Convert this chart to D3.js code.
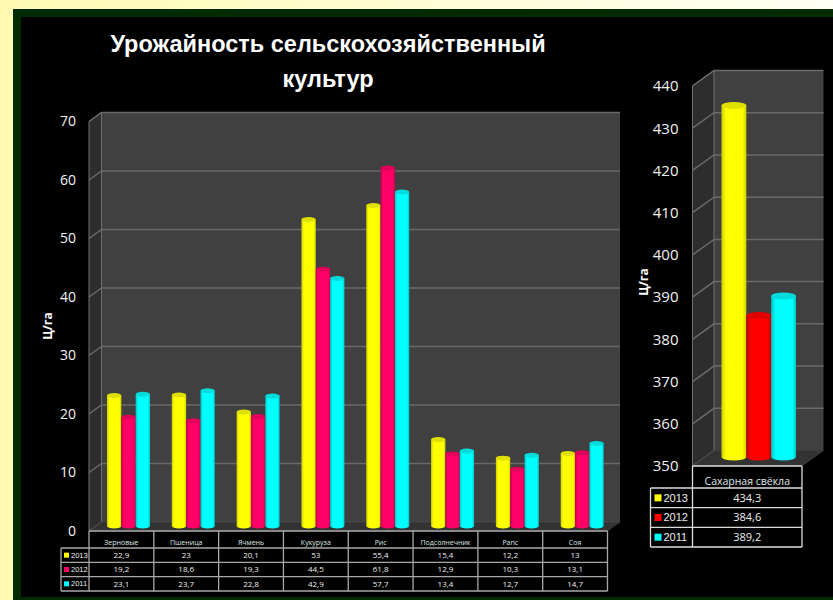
<!DOCTYPE html>
<html>
<head>
  <meta charset="utf-8">
  <script src="https://d3js.org/d3.v7.min.js"></script>
  <style>
    html, body { margin: 0; padding: 0; background: #000; overflow: hidden; }
    svg { display: block; }
    text { font-family: "Open Sans", "Noto Sans", sans-serif; }
  </style>
</head>
<body>
  <svg width="833" height="600"></svg>

  <script>
    const titleLines = ["Урожайность сельскохозяйственный", "культур"];
    const yLabel = "Ц/га";

    const years = ["2013", "2012", "2011"];

    const crops = ["Зерновые", "Пшеница", "Ячмень", "Кукуруза", "Рис", "Подсолнечник", "Рапс", "Соя"];
    const crops2013 = [22.9, 23, 20.1, 53, 55.4, 15.4, 12.2, 13];
    const crops2012 = [19.2, 18.6, 19.3, 44.5, 61.8, 12.9, 10.3, 13.1];
    const crops2011 = [23.1, 23.7, 22.8, 42.9, 57.7, 13.4, 12.7, 14.7];

    const beet = ["Сахарная свёкла"];
    const beet2013 = [434.3];
    const beet2012 = [384.6];
    const beet2011 = [389.2];

    const svg = d3.select("svg");
    const defs = svg.append("defs");

    // page background and frame
    const pageGrad = defs.append("linearGradient").attr("id", "page");
    pageGrad.append("stop").attr("offset", "0%").attr("stop-color", "#fffbb4");
    pageGrad.append("stop").attr("offset", "100%").attr("stop-color", "#fffff4");
    svg.append("rect").attr("width", 833).attr("height", 600).attr("fill", "url(#page)");
    svg.append("rect").attr("x", 13).attr("y", 9).attr("width", 820).attr("height", 591).attr("fill", "#032b03");
    svg.append("rect").attr("x", 21).attr("y", 17).attr("width", 812).attr("height", 580).attr("fill", "#000");

    // title
    svg.append("g").selectAll("text")
      .data(titleLines)
      .enter().append("text")
      .attr("x", 328)
      .attr("y", (d, i) => 52 + i * 35)
      .attr("text-anchor", "middle")
      .attr("fill", "#fff")
      .style("font-family", "'Liberation Sans', sans-serif")
      .style("font-weight", "bold")
      .style("font-size", "23.5px")
      .text(d => d);

    function cylinderGradient(id, edge, mid) {
      const g = defs.append("linearGradient").attr("id", id);
      g.append("stop").attr("offset", "0%").attr("stop-color", edge);
      g.append("stop").attr("offset", "18%").attr("stop-color", mid);
      g.append("stop").attr("offset", "85%").attr("stop-color", mid);
      g.append("stop").attr("offset", "100%").attr("stop-color", edge);
    }
    cylinderGradient("yellow", "#cfcf00", "#ffff00");
    cylinderGradient("pink", "#c4004e", "#ff0066");
    cylinderGradient("red", "#bc0000", "#ff0000");
    cylinderGradient("cyan", "#00c4c4", "#00ffff");

    function drawChart(c) {
      const g = svg.append("g");
      const dx = c.depthX, dy = c.depthY;

      const yFront = d3.scaleLinear().domain(c.domain).range([c.bottom, c.top]);
      const yBar = d3.scaleLinear().domain(c.domain).range([c.barZero, c.barZero - (c.bottom - c.top)]);
      const x = d3.scaleBand().domain(c.cats).range([c.left, c.right]);
      const x1 = d3.scaleBand().domain(years).range(c.barRange);
      const ticks = d3.range(c.domain[0], c.domain[1] + 1, c.step);

      // walls and floor
      g.append("rect")
        .attr("x", c.left + dx).attr("y", c.top - dy)
        .attr("width", c.right - c.left).attr("height", c.bottom - c.top)
        .attr("fill", "#404040");
      g.append("path")
        .attr("d", `M${c.left},${c.top}L${c.left + dx},${c.top - dy}V${c.bottom - dy}L${c.left},${c.bottom}Z`)
        .attr("fill", "#2d2d2d").attr("stroke", "#707070");
      g.append("path")
        .attr("d", `M${c.left},${c.bottom}L${c.left + dx},${c.bottom - dy}H${c.right + dx}L${c.right},${c.bottom}Z`)
        .attr("fill", "#333").attr("stroke", "#555").attr("stroke-width", 0.5);

      // grid lines, back wall and side wall
      g.selectAll(".grid")
        .data(ticks.slice(1))
        .enter().append("path")
        .attr("class", "grid")
        .attr("d", d => `M${c.left},${yFront(d)}L${c.left + dx},${yFront(d) - dy}H${c.right + dx}`)
        .attr("fill", "none")
        .attr("stroke", "#6a6a6a")
        .attr("stroke-width", 1.5);

      // y axis labels
      const axis = g.append("g")
        .attr("transform", `translate(${c.left},0)`)
        .call(d3.axisLeft(yFront).tickValues(ticks).tickSize(0).tickPadding(c.tickPad));
      axis.select(".domain").remove();
      axis.selectAll("text")
        .attr("fill", "#f2f2f2")
        .style("font-size", c.tickFont + "px");

      g.append("text")
        .attr("transform", `translate(${c.yLabelX},${c.yLabelY}) rotate(-90)`)
        .attr("text-anchor", "middle")
        .attr("fill", "#fff")
        .style("font-weight", "bold")
        .style("font-size", c.yLabelFont + "px")
        .text(yLabel);

      // cylinders
      years.forEach((yr, si) => {
        const vals = c.series[si];
        const rx = x1.bandwidth() / 2;
        const bars = g.append("g").selectAll("g")
          .data(vals)
          .enter().append("g");
        bars.append("path")
          .attr("d", (d, i) => {
            const x0 = x(c.cats[i]) + x1(yr);
            return `M${x0},${yBar(d)}V${c.barBase}A${rx},${c.ry} 0 0 0 ${x0 + 2 * rx},${c.barBase}V${yBar(d)}Z`;
          })
          .attr("fill", `url(#${c.grads[si]})`);
        bars.append("ellipse")
          .attr("cx", (d, i) => x(c.cats[i]) + x1(yr) + rx)
          .attr("cy", d => yBar(d))
          .attr("rx", rx)
          .attr("ry", c.ry)
          .attr("fill", c.tops[si]);
      });

      // data table
      const rows = d3.scaleBand().domain(years).range([c.tableTop, c.tableBottom]);
      const t = g.append("g");
      const line = (x1p, y1p, x2p, y2p) => t.append("line")
        .attr("x1", x1p).attr("y1", y1p).attr("x2", x2p).attr("y2", y2p)
        .attr("stroke", c.tableColor).attr("stroke-width", 1.3);

      line(c.left, c.bottom, c.right, c.bottom);
      years.forEach(yr => line(c.tableLeft, rows(yr), c.right, rows(yr)));
      line(c.tableLeft, c.tableBottom, c.right, c.tableBottom);
      line(c.tableLeft, c.tableTop, c.tableLeft, c.tableBottom);
      c.cats.forEach(cat => line(x(cat), c.bottom, x(cat), c.tableBottom));
      line(c.right, c.bottom, c.right, c.tableBottom);

      t.selectAll(".head")
        .data(c.cats)
        .enter().append("text")
        .attr("class", "head")
        .attr("x", d => x(d) + x.bandwidth() / 2)
        .attr("y", (c.bottom + c.tableTop) / 2 + c.headShift)
        .attr("text-anchor", "middle")
        .attr("fill", "#dfe6e6")
        .style("font-size", c.headFont + "px")
        .text(d => d);

      years.forEach((yr, si) => {
        const mid = rows(yr) + rows.bandwidth() / 2;
        t.append("rect")
          .attr("x", c.tableLeft + c.swatchPad).attr("y", mid - c.swatch / 2)
          .attr("width", c.swatch).attr("height", c.swatch)
          .attr("fill", c.swatchColors[si]);
        t.append("text")
          .attr("x", c.tableLeft + c.swatchPad + c.swatch + 2)
          .attr("y", mid)
          .attr("dy", "0.35em")
          .attr("fill", "#eee")
          .style("font-family", "'Liberation Sans', sans-serif")
          .style("font-size", c.yearFont + "px")
          .text(yr);
        t.selectAll(".cell" + si)
          .data(c.series[si])
          .enter().append("text")
          .attr("class", "cell" + si)
          .attr("x", (d, i) => x(c.cats[i]) + x.bandwidth() / 2)
          .attr("y", mid)
          .attr("dy", "0.35em")
          .attr("text-anchor", "middle")
          .attr("fill", "#eee")
          .style("font-size", c.cellFont + "px")
          .text(d => String(d).replace(".", ","));
      });
    }

    // left chart
    drawChart({
      cats: crops,
      series: [crops2013, crops2012, crops2011],
      domain: [0, 70], step: 10,
      left: 89, right: 607.5, top: 121.5, bottom: 531,
      depthX: 12.5, depthY: 9,
      barZero: 529.5, barBase: 526, barRange: [18, 61], ry: 2.5,
      grads: ["yellow", "pink", "cyan"],
      tops: ["#e0e000", "#e0005a", "#00dcdc"],
      swatchColors: ["#ffff00", "#ff0066", "#00ffff"],
      tickPad: 13, tickFont: 14,
      yLabelX: 52, yLabelY: 326, yLabelFont: 12,
      tableTop: 548, tableBottom: 591, tableLeft: 61, tableColor: "#a8a8a8",
      headFont: 7, headShift: 5.5, cellFont: 8, yearFont: 7.5,
      swatch: 5, swatchPad: 3
    });

    // right chart
    drawChart({
      cats: beet,
      series: [beet2013, beet2012, beet2011],
      domain: [350, 440], step: 10,
      left: 692.5, right: 802, top: 86, bottom: 466,
      depthX: 21.5, depthY: 15.5,
      barZero: 461.5, barBase: 457, barRange: [29, 103.5], ry: 3.5,
      grads: ["yellow", "red", "cyan"],
      tops: ["#e0e000", "#e00000", "#00dcdc"],
      swatchColors: ["#ffff00", "#ff0000", "#00ffff"],
      tickPad: 14, tickFont: 15,
      yLabelX: 648, yLabelY: 282, yLabelFont: 12,
      tableTop: 488, tableBottom: 547, tableLeft: 650.5, tableColor: "#dcdcdc",
      headFont: 10.5, headShift: 7.5, cellFont: 11, yearFont: 11,
      swatch: 7, swatchPad: 4
    });
  </script>
</body>
</html>
